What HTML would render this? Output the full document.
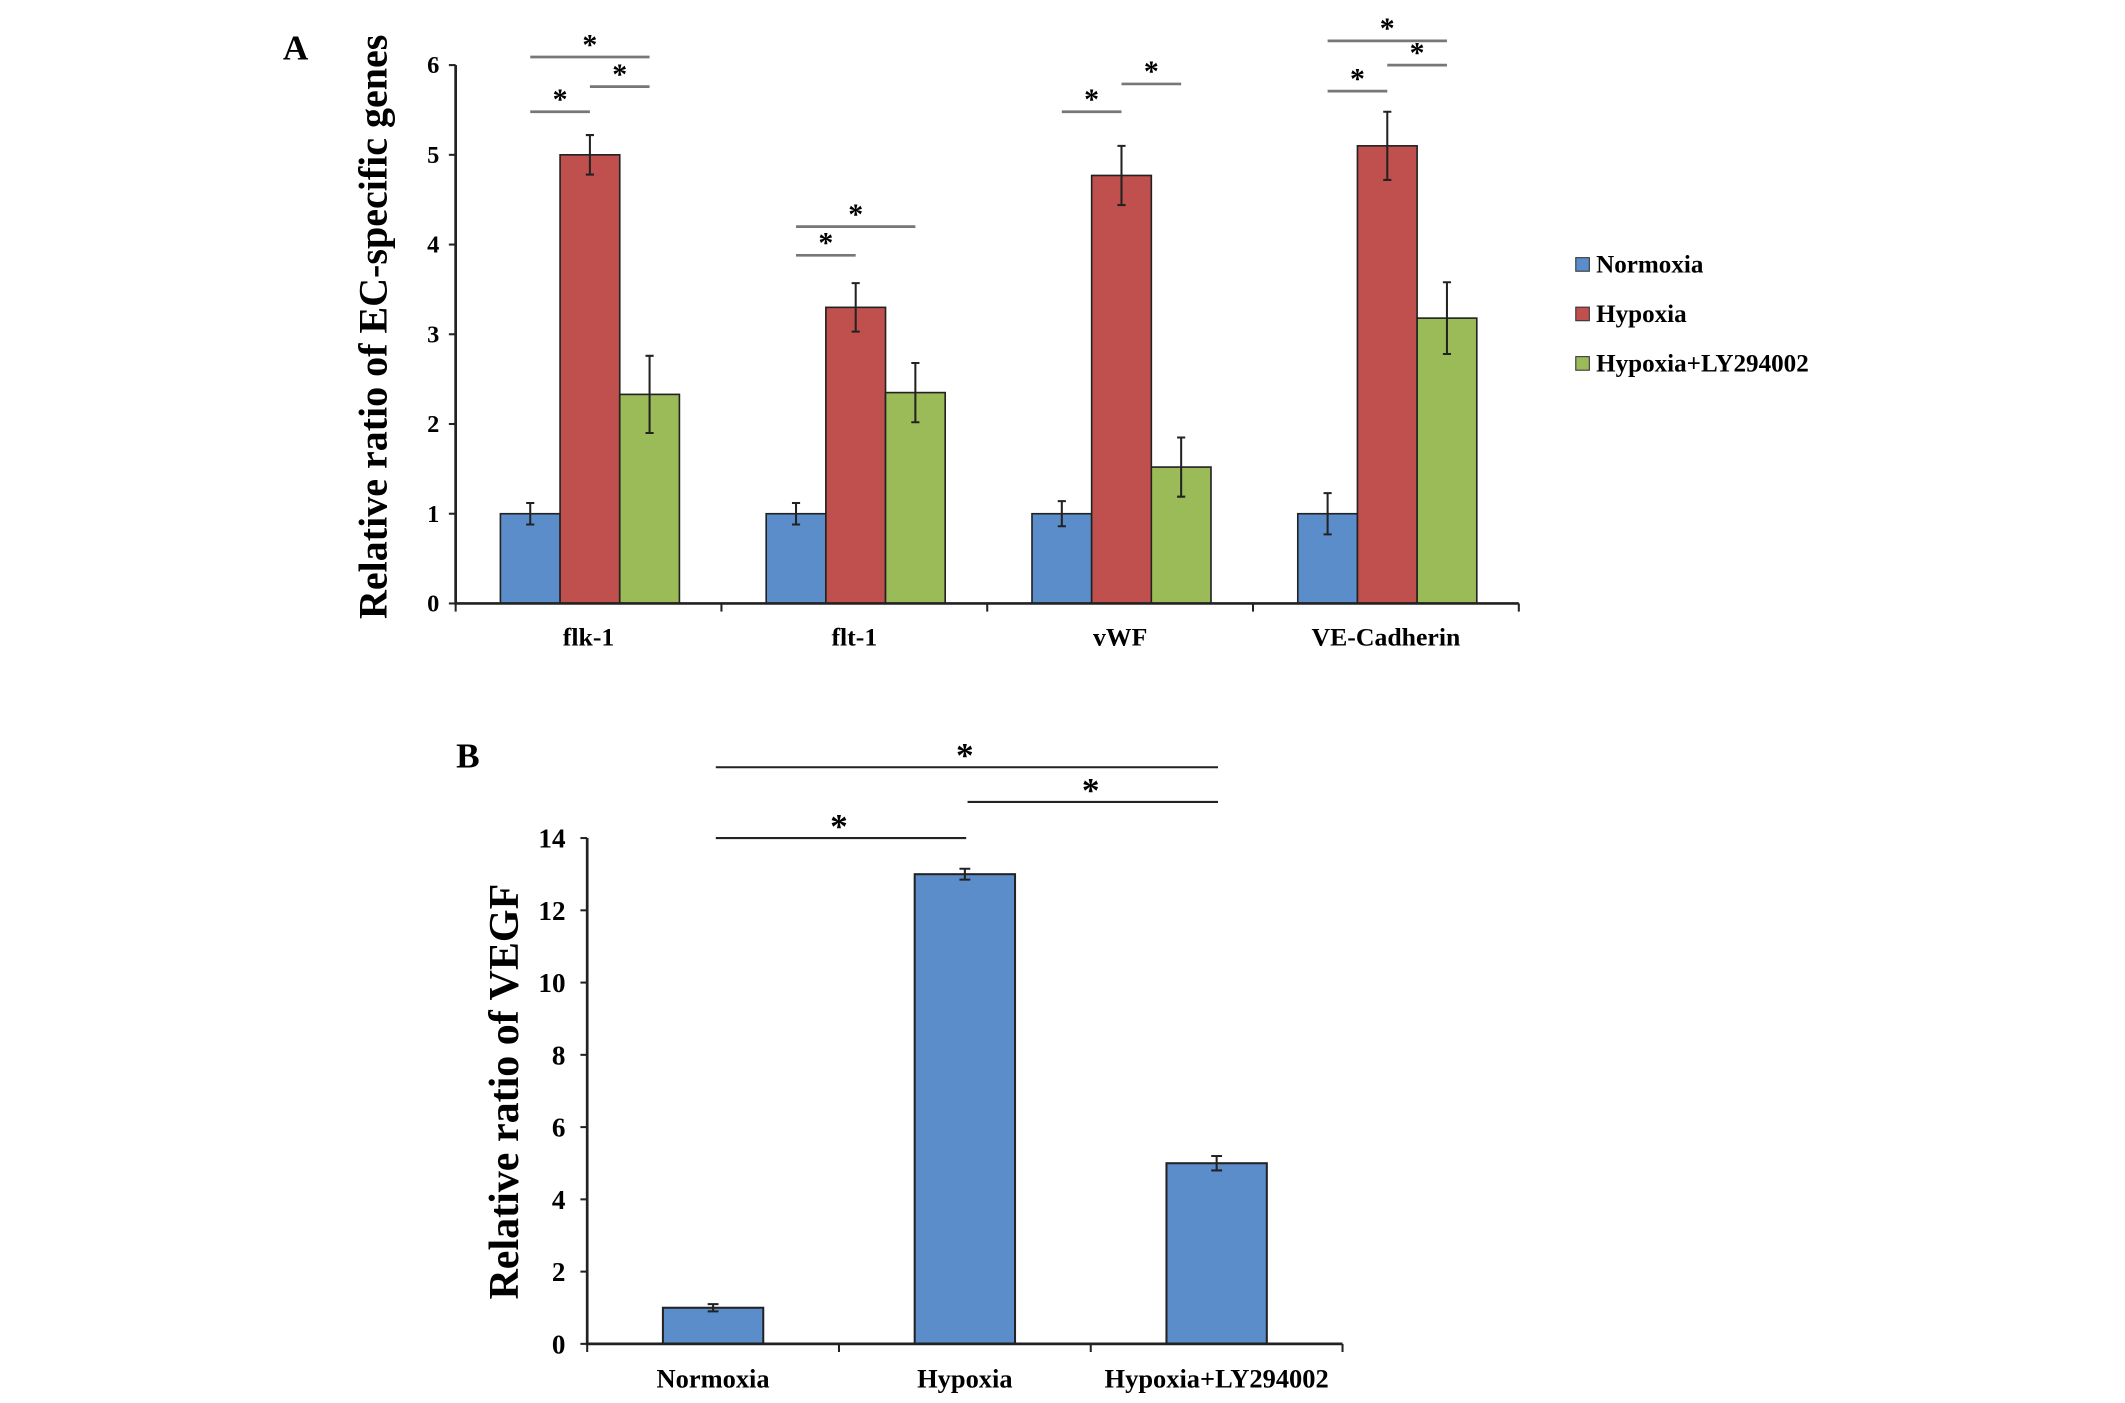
<!DOCTYPE html>
<html><head><meta charset="utf-8"><style>
html,body{margin:0;padding:0;background:#fff;}
svg{display:block;font-family:"Liberation Serif",serif;font-weight:bold;}
</style></head><body>
<svg id="fig" width="2125" height="1403" viewBox="0 0 1567 1034.6" xmlns="http://www.w3.org/2000/svg">
<g id="chartA"></g>
<g id="chartB"></g>
</svg>
<script>
const catsA = ["flk-1","flt-1","vWF","VE-Cadherin"];
const seriesNames = ["Normoxia","Hypoxia","Hypoxia+LY294002"];
const normoxiaA = [1, 1, 1, 1];
const hypoxiaA = [5.0, 3.3, 4.77, 5.1];
const lyA = [2.33, 2.35, 1.52, 3.18];
const normoxiaErrA = [0.12, 0.12, 0.14, 0.23];
const hypoxiaErrA = [0.22, 0.27, 0.33, 0.38];
const lyErrA = [0.43, 0.33, 0.33, 0.40];
const ticksA = [0,1,2,3,4,5,6];
// significance: [category, fromSeries, toSeries, level]
const sigA = [[0,0,1,5.48],[0,1,2,5.76],[0,0,2,6.09],[1,0,1,3.88],[1,0,2,4.2],[2,0,1,5.48],[2,1,2,5.79],[3,0,1,5.71],[3,1,2,6.0],[3,0,2,6.27]];
const catsB = ["Normoxia","Hypoxia","Hypoxia+LY294002"];
const valsB = [1, 13, 5];
const errsB = [0.1, 0.15, 0.2];
const ticksB = [0,2,4,6,8,10,12,14];
const sigB = [[0,1,14.0],[1,2,15.0],[0,2,15.96]];

const NS="http://www.w3.org/2000/svg";
function mk(parent,tag,attrs,text){const e=document.createElementNS(NS,tag);for(const k in attrs)e.setAttribute(k,attrs[k]);if(text!==undefined)e.textContent=text;parent.appendChild(e);return e;}
const colors=["#5B8DCB","#C0504D","#9BBB59"];

// Chart A
(function(){
const g=document.getElementById('chartA');
const x0=336,x1=1120,yb=445,yt=48,ymax=6;
const y=v=>yb-(v/ymax)*(yb-yt);
const gw=(x1-x0)/catsA.length, bw=44, off=33;
const bx=(c,s)=>x0+c*gw+off+s*bw;
let t=mk(g,'text',{x:218,y:44,'font-size':26,'text-anchor':'middle'},'A');

const series=[normoxiaA,hypoxiaA,lyA], errs=[normoxiaErrA,hypoxiaErrA,lyErrA];
for(let c=0;c<catsA.length;c++)for(let s=0;s<3;s++){
 const v=series[s][c],e=errs[s][c],x=bx(c,s);
 const r=mk(g,'rect',{x:x,y:y(v),width:bw,height:yb-y(v),fill:colors[s],stroke:'#222','stroke-width':1.2});
 
 const cx=x+bw/2;
 const eb=mk(g,'path',{d:`M${cx},${y(v+e)}V${y(v-e)}M${cx-3},${y(v+e)}H${cx+3}M${cx-3},${y(v-e)}H${cx+3}`,stroke:'#222','stroke-width':1.5,fill:'none'});
 
}
const ax=mk(g,'path',{d:`M${x0},${yt}V${yb}H${x1}`,stroke:'#222','stroke-width':2,fill:'none'});

ticksA.forEach(v=>{
 mk(g,'line',{x1:x0-5,x2:x0,y1:y(v),y2:y(v),stroke:'#222','stroke-width':1.5});
 const l=mk(g,'text',{x:x0-12,y:y(v)+6,'font-size':18,'text-anchor':'end'},v);
 
});
for(let c=0;c<=catsA.length;c++)mk(g,'line',{x1:x0+c*gw,x2:x0+c*gw,y1:yb,y2:yb+6,stroke:'#222','stroke-width':1.5});
catsA.forEach((n,c)=>{const l=mk(g,'text',{x:x0+c*gw+gw/2,y:476,'font-size':19,'text-anchor':'middle'},n);
 });
const yt2=mk(g,'text',{x:0,y:0,'font-size':29.5,'text-anchor':'middle',transform:`translate(285,241) rotate(-90)`},'Relative ratio of EC-specific genes');

sigA.forEach(([c,a,b,lv])=>{
 const xa=bx(c,a)+bw/2,xb=bx(c,b)+bw/2,yy=y(lv);
 const ln=mk(g,'line',{x1:xa,x2:xb,y1:yy,y2:yy,stroke:'#777','stroke-width':2});
 
 const s=mk(g,'text',{x:(xa+xb)/2,y:yy-2,'font-size':22,'text-anchor':'middle'},'*');
 
});
seriesNames.forEach((n,i)=>{
 const yy=195+i*36.5;
 const le=mk(g,'g',{});
 
 mk(le,'rect',{x:1162,y:yy-5,width:10,height:10,fill:colors[i],stroke:'#333','stroke-width':0.8});
 mk(le,'text',{x:1177,y:yy+6,'font-size':18.5},n);
});
})();

// Chart B
(function(){
const g=document.getElementById('chartB');
const x0=433,x1=990,yb=991,yt=618,ymax=14;
const y=v=>yb-(v/ymax)*(yb-yt);
const gw=(x1-x0)/catsB.length,bw=74;
const cx=i=>x0+i*gw+gw/2;
let t=mk(g,'text',{x:345,y:566,'font-size':26,'text-anchor':'middle'},'B');

valsB.forEach((v,i)=>{
 const r=mk(g,'rect',{x:cx(i)-bw/2,y:y(v),width:bw,height:yb-y(v),fill:colors[0],stroke:'#222','stroke-width':1.5});
 
 const e=errsB[i];
 const eb=mk(g,'path',{d:`M${cx(i)},${y(v+e)}V${y(v-e)}M${cx(i)-4},${y(v+e)}H${cx(i)+4}M${cx(i)-4},${y(v-e)}H${cx(i)+4}`,stroke:'#222','stroke-width':1.5,fill:'none'});
 
});
const ax=mk(g,'path',{d:`M${x0},${yt}V${yb}H${x1}`,stroke:'#222','stroke-width':2,fill:'none'});

ticksB.forEach(v=>{
 mk(g,'line',{x1:x0-5,x2:x0,y1:y(v),y2:y(v),stroke:'#222','stroke-width':1.5});
 const l=mk(g,'text',{x:x0-16,y:y(v)+7,'font-size':20,'text-anchor':'end'},v);
 
});
for(let c=0;c<=catsB.length;c++)mk(g,'line',{x1:x0+c*gw,x2:x0+c*gw,y1:yb,y2:yb+6,stroke:'#222','stroke-width':1.5});
catsB.forEach((n,i)=>{const l=mk(g,'text',{x:cx(i),y:1023,'font-size':19.5,'text-anchor':'middle'},n);
 });
const yt2=mk(g,'text',{x:0,y:0,'font-size':31,'text-anchor':'middle',transform:`translate(382,805) rotate(-90)`},'Relative ratio of VEGF');

sigB.forEach(([a,b,lv])=>{
 const yy=y(lv);
 const ln=mk(g,'line',{x1:cx(a)+2,x2:cx(b)+1,y1:yy,y2:yy,stroke:'#222','stroke-width':1.5});
 
 const s=mk(g,'text',{x:(cx(a)+cx(b))/2,y:yy,'font-size':26,'text-anchor':'middle'},'*');
 
});
})();
</script>
</body></html>
